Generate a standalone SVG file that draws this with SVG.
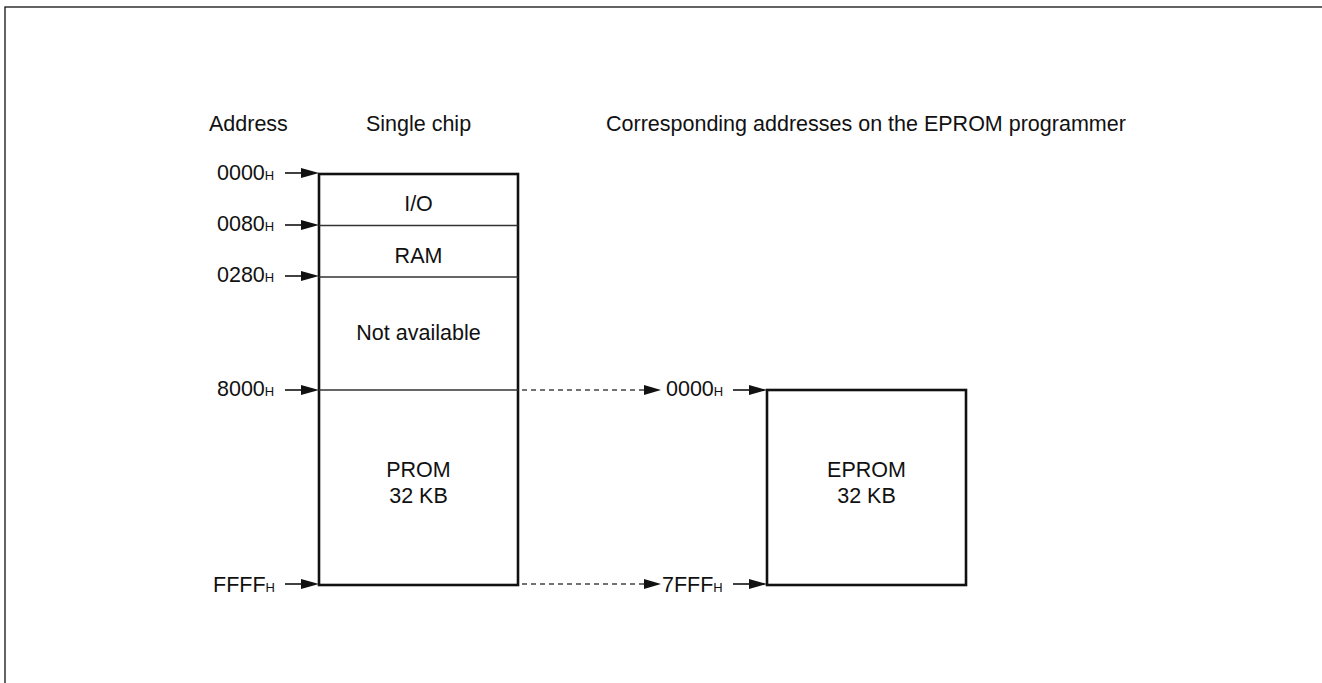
<svg xmlns="http://www.w3.org/2000/svg" width="1322" height="683" viewBox="0 0 1322 683">
<style>
text{font-family:"Liberation Sans",Arial,sans-serif;font-size:21.5px;fill:#111}
.sub{font-size:13px}
.box{fill:#fff;stroke:#111;stroke-width:2.6}
.div{stroke:#333;stroke-width:1.5}
.arr{stroke:#111;stroke-width:1.6;fill:none}
.dash{stroke:#444;stroke-width:1.3;stroke-dasharray:5 4;fill:none}
.head{fill:#111}
</style>
<rect x="5" y="7" width="1400" height="720" fill="none" stroke="#111" stroke-width="1.3"/>
<g id="headers">
<text x="209" y="131">Address</text>
<text x="418.5" y="131" text-anchor="middle">Single chip</text>
<text x="606" y="131">Corresponding addresses on the EPROM programmer</text>
</g>
<g id="single-chip">
<rect class="box" x="319" y="174" width="199" height="411"/>
<line class="div" x1="319" y1="225.5" x2="518" y2="225.5"/>
<line class="div" x1="319" y1="277" x2="518" y2="277"/>
<line class="div" x1="319" y1="390" x2="518" y2="390"/>
<text x="418.5" y="211" text-anchor="middle">I/O</text>
<text x="418.5" y="263" text-anchor="middle">RAM</text>
<text x="418.5" y="340" text-anchor="middle">Not available</text>
<text x="418.5" y="477" text-anchor="middle">PROM</text>
<text x="418.5" y="503" text-anchor="middle">32 KB</text>
</g>
<g id="eprom">
<rect class="box" x="767" y="390" width="199" height="195"/>
<text x="866.5" y="477" text-anchor="middle">EPROM</text>
<text x="866.5" y="503" text-anchor="middle">32 KB</text>
</g>
<g id="address-labels">
<text x="217" y="180">0000<tspan class="sub">H</tspan></text>
<text x="217" y="231">0080<tspan class="sub">H</tspan></text>
<text x="217" y="282">0280<tspan class="sub">H</tspan></text>
<text x="217" y="396">8000<tspan class="sub">H</tspan></text>
<text x="213" y="592">FFFF<tspan class="sub">H</tspan></text>
<text x="666" y="396">0000<tspan class="sub">H</tspan></text>
<text x="662" y="592">7FFF<tspan class="sub">H</tspan></text>
</g>
<g id="connectors">
<line class="arr" x1="285" y1="173" x2="304" y2="173"/><polygon class="head" points="319,173 301,168 301,178"/>
<line class="arr" x1="285" y1="225" x2="304" y2="225"/><polygon class="head" points="319,225 301,220 301,230"/>
<line class="arr" x1="285" y1="276" x2="304" y2="276"/><polygon class="head" points="319,276 301,271 301,281"/>
<line class="arr" x1="285" y1="390" x2="304" y2="390"/><polygon class="head" points="319,390 301,385 301,395"/>
<line class="arr" x1="285" y1="584" x2="304" y2="584"/><polygon class="head" points="319,584 301,579 301,589"/>
<line class="dash" x1="522" y1="390" x2="646" y2="390"/><polygon class="head" points="661,390 644,385 644,395"/>
<line class="dash" x1="522" y1="584" x2="646" y2="584"/><polygon class="head" points="661,584 644,579 644,589"/>
<line class="arr" x1="733" y1="390" x2="752" y2="390"/><polygon class="head" points="767,390 749,385 749,395"/>
<line class="arr" x1="733" y1="584" x2="752" y2="584"/><polygon class="head" points="767,584 749,579 749,589"/>
</g>
</svg>
